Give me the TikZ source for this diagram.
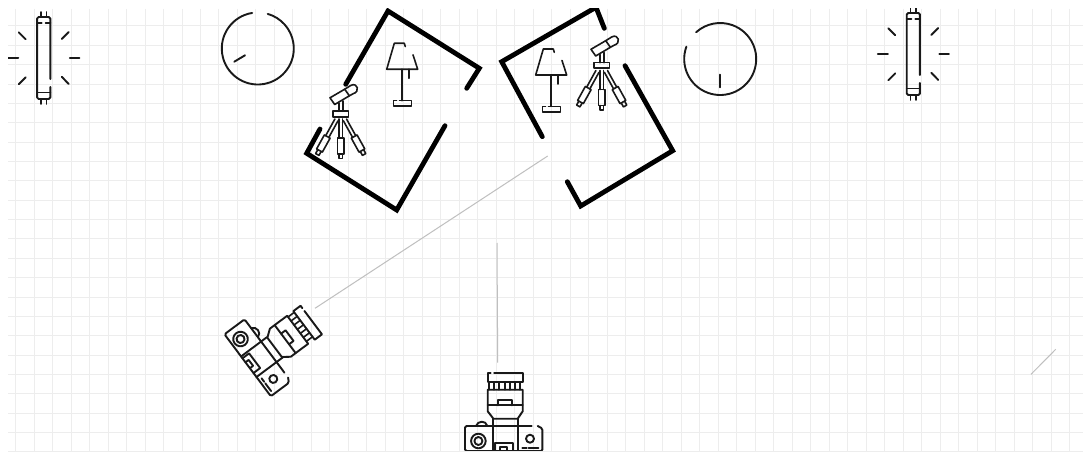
\documentclass[tikz,border=0pt]{standalone}
\begin{document}
\begin{tikzpicture}[x=1pt,y=-1pt,
  icon/.style={draw=black!90,line width=1.9pt,line cap=round,line join=round},
  thinicon/.style={draw=black!90,line width=1.6pt,line cap=round,line join=round},
  wall/.style={draw=black,line width=4.8pt,line cap=round,line join=miter},
  sight/.style={draw=black!25,line width=1pt},
  gridline/.style={draw=black!7,line width=1pt},
  tubelight/.pic={
    \draw[icon,rounded corners=1.5pt] (6.6,21) -- (6.6,-41) -- (-6.6,-41) -- (-6.6,41) -- (6.6,41) -- (6.6,29);
    \draw[icon] (-6.6,-35) -- (-2,-35) (2,-35) -- (6.6,-35);
    \draw[icon] (-6.6,34.5) -- (6.6,34.5);
    \draw[thinicon] (-2.8,-41) -- (-2.8,-46) (2.8,-41) -- (2.8,-46) (-2.8,41) -- (-2.8,46) (2.8,41) -- (2.8,46);
    \draw[icon] (-35.4,0) -- (-25.4,0) (26,0) -- (35.6,0)
      (-25,-25.7) -- (-18,-18.7) (25,-26) -- (18,-19)
      (-25,26.3) -- (-18,19.3) (25,26) -- (18,18.7);
  },
  lampicon/.pic={
    \draw[thinicon] (3.3,-13.7) -- (2.3,-17) -- (-7.7,-17) -- (-15.3,9) -- (15.7,9) -- (11,-5.5);
    \draw[thinicon] (0,9) -- (0,40.4) (7,9) -- (7,18);
    \draw[thinicon] (-2.5,40.4) -- (9.3,40.4) -- (9.3,45.7) -- (-8.7,45.7) -- (-8.7,40.4) -- (-5.5,40.4);
  },
  tripodleg/.pic={
    \draw[thinicon] (-1.8,3) -- (-1.8,22) (1.8,3) -- (1.8,22);
    \draw[thinicon] (-3.3,22) rectangle (3.3,38);
    \draw[thinicon] (-1.9,38) -- (-1.9,42.5) -- (1.9,42.5) -- (1.9,38);
  },
  tripodicon/.pic={
    \draw[thinicon] (4,-24.8) -- (-10.7,-16.2) -- (-6,-9.5) -- (8.7,-18.2) -- cycle;
    \draw[thinicon] (4,-24.8) -- (10,-28.5) .. controls (16.7,-32.2) and (20,-22.2) .. (12.3,-20.2) -- (8.7,-18.2);
    \draw[thinicon] (-2,-11) -- (-2,-2.8) (2,-13) -- (2,-2.8);
    \draw[thinicon] (-7.7,-2.8) rectangle (7.7,2.8);
    \pic at (0,2) {tripodleg};
    \pic[rotate=-29] at (-2.8,3.3) {tripodleg};
    \pic[rotate=29] at (2.8,3.3) {tripodleg};
  },
  cameraicon/.pic={
    % hood
    \draw[icon] (-9.5,-53) -- (19.7,-53) -- (19.7,-44) -- (-16,-44) -- (-16,-53) -- (-13,-53);
    % ring
    \draw[thinicon] (-14.5,-44) -- (-14.5,-36.3) (-9.5,-44) -- (-9.5,-36.3) (-4.5,-44) -- (-4.5,-36.3) (1,-44) -- (1,-36.3) (6,-44) -- (6,-36.3) (11,-44) -- (11,-36.3) (16,-44) -- (16,-36.3);
    % barrel
    \draw[icon] (-16,-36.3) -- (19,-36.3) -- (19,-14.7) -- (14,-7.3) -- (-10.3,-7.3) -- (-16,-14.7) -- cycle;
    \draw[icon] (-16,-20.7) -- (19,-20.7);
    \draw[icon] (-5.3,-20.7) -- (-5.3,-26.3) -- (8,-26.3) -- (8,-20.7);
    % body
    \draw[icon,rounded corners=1.5pt] (28,0) -- (-38.7,0) -- (-38.7,25) -- (38.7,25) -- (38.7,2.5) -- (34,0);
    \draw[icon] (-27.7,0) .. controls (-26,-5.5) and (-18,-6) .. (-16.3,0);
    \draw[icon] (-11,-7.3) -- (-11,25) (14.7,-7.3) -- (14.7,25);
    % dial
    \draw[icon] (-25.3,15) circle[radius=7.3pt];
    \draw[icon] (-25.3,15) circle[radius=4pt];
    % knob
    \draw[icon] (26.3,12.7) circle[radius=4pt];
    \draw[icon] (18.7,21.7) -- (23,21.7) (25,21.7) -- (34.7,21.7);
    % finder
    \draw[icon] (-8.7,25) -- (-8.7,16.7) -- (9.7,16.7) -- (9.7,25);
    \draw[icon] (-3.7,25) -- (-3.7,21) -- (3.7,21) -- (3.7,25);
  }]
\useasboundingbox (0,0) rectangle (1085,452);
\fill[white] (0,0) rectangle (1085,452);
\begin{scope}
\clip (8,9) rectangle (1083,452);
% grid
\foreach \k in {0,...,57} {\draw[gridline] ({15.6+18.49*\k},9) -- ({15.6+18.49*\k},452);}
\foreach \k in {0,...,22} {\draw[gridline] (8,{26+19.36*\k}) -- (1083,{26+19.36*\k});}
% sight lines
\draw[sight] (315,308.3) -- (547.7,156);
\draw[sight] (497,243) -- (497.7,362.5);
\draw[sight] (1031,374.3) -- (1055.7,349.3);
% fluorescent tubes
\pic at (43.7,58) {tubelight};
\pic at (913.3,54) {tubelight};
% clocks
\draw[icon] ([shift={(257.8,48.5)}] 99:36pt) arc[start angle=99,end angle=434,radius=36pt];
\draw[icon] (234.3,61.7) -- (245,55.3);
\draw[icon] ([shift={(720.2,59)}] 160:36pt) arc[start angle=160,end angle=492,radius=36pt];
\draw[icon] (720.3,74.7) -- (720.3,87.3);
% rooms
\draw[wall] (345.7,84.3) -- (388,11) -- (479.3,68.3) -- (466.7,88.3);
\draw[wall] (320,129) -- (306.7,153.3) -- (396.7,210) -- (445,125.7);
\draw[wall] (604.3,28.3) -- (596,7.3) -- (501.7,61.7) -- (542.3,136.7);
\draw[wall] (625,65.7) -- (672.7,150.7) -- (580.7,206) -- (567.3,181.7);
% lamps
\pic at (402,60.3) {lampicon};
\pic at (551,66) {lampicon};
% tripods
\pic at (340.7,114) {tripodicon};
\pic at (601.7,65.5) {tripodicon};
% cameras
\pic[rotate=-53.2] at (267.7,350.3) {cameraicon};
\begin{scope}
\clip (440,360) rectangle (570,450);
\pic at (503.7,426) {cameraicon};
\end{scope}
\end{scope}
\end{tikzpicture}
\end{document}
